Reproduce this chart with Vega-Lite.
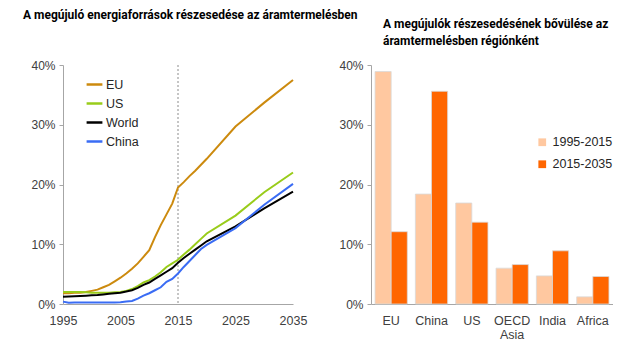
{
  "$schema": "https://vega.github.io/schema/vega-lite/v6.json",
  "background": "white",
  "padding": {"left": 23, "top": 9, "right": 0, "bottom": 0},
  "spacing": 78,
  "bounds": "flush",
  "config": {
    "view": {"stroke": null},
    "font": "Liberation Sans",
    "axis": {"labelColor": "#404040", "labelFontSize": 12, "domainColor": "#a6a6a6", "tickColor": "#a6a6a6", "grid": false, "title": null, "labelFont": "Liberation Sans"},
    "title": {"font": "Roboto", "fontSize": 12, "fontWeight": "bold", "color": "#000000", "anchor": "start", "frame": "group"},
    "legend": {"labelFont": "Liberation Sans", "labelFontSize": 12.5, "labelColor": "#262626", "title": null}
  },
  "datasets": {
    "share": [
      {"year": 1995, "region": "EU", "value": 1.8}, {"year": 1996, "region": "EU", "value": 1.8}, {"year": 1997, "region": "EU", "value": 1.9}, {"year": 1998, "region": "EU", "value": 1.9}, {"year": 1999, "region": "EU", "value": 2.0}, {"year": 2000, "region": "EU", "value": 2.2}, {"year": 2001, "region": "EU", "value": 2.4}, {"year": 2002, "region": "EU", "value": 2.8}, {"year": 2003, "region": "EU", "value": 3.2}, {"year": 2004, "region": "EU", "value": 3.8}, {"year": 2005, "region": "EU", "value": 4.4}, {"year": 2006, "region": "EU", "value": 5.1}, {"year": 2007, "region": "EU", "value": 5.9}, {"year": 2008, "region": "EU", "value": 6.8}, {"year": 2009, "region": "EU", "value": 7.9}, {"year": 2010, "region": "EU", "value": 9.0}, {"year": 2011, "region": "EU", "value": 11.2}, {"year": 2012, "region": "EU", "value": 13.2}, {"year": 2013, "region": "EU", "value": 15.0}, {"year": 2014, "region": "EU", "value": 16.8}, {"year": 2015, "region": "EU", "value": 19.5}, {"year": 2016, "region": "EU", "value": 20.4}, {"year": 2017, "region": "EU", "value": 21.4}, {"year": 2018, "region": "EU", "value": 22.3}, {"year": 2019, "region": "EU", "value": 23.3}, {"year": 2020, "region": "EU", "value": 24.3}, {"year": 2025, "region": "EU", "value": 29.7}, {"year": 2030, "region": "EU", "value": 33.7}, {"year": 2035, "region": "EU", "value": 37.5},
      {"year": 1995, "region": "US", "value": 2.0}, {"year": 1996, "region": "US", "value": 2.0}, {"year": 1997, "region": "US", "value": 2.0}, {"year": 1998, "region": "US", "value": 2.0}, {"year": 1999, "region": "US", "value": 1.95}, {"year": 2000, "region": "US", "value": 1.9}, {"year": 2001, "region": "US", "value": 1.9}, {"year": 2002, "region": "US", "value": 1.9}, {"year": 2003, "region": "US", "value": 1.9}, {"year": 2004, "region": "US", "value": 1.95}, {"year": 2005, "region": "US", "value": 2.0}, {"year": 2006, "region": "US", "value": 2.2}, {"year": 2007, "region": "US", "value": 2.5}, {"year": 2008, "region": "US", "value": 3.0}, {"year": 2009, "region": "US", "value": 3.6}, {"year": 2010, "region": "US", "value": 4.0}, {"year": 2011, "region": "US", "value": 4.6}, {"year": 2012, "region": "US", "value": 5.3}, {"year": 2013, "region": "US", "value": 6.2}, {"year": 2014, "region": "US", "value": 6.8}, {"year": 2015, "region": "US", "value": 7.4}, {"year": 2016, "region": "US", "value": 8.3}, {"year": 2017, "region": "US", "value": 9.1}, {"year": 2018, "region": "US", "value": 10.0}, {"year": 2019, "region": "US", "value": 10.9}, {"year": 2020, "region": "US", "value": 11.8}, {"year": 2025, "region": "US", "value": 14.8}, {"year": 2030, "region": "US", "value": 18.7}, {"year": 2035, "region": "US", "value": 22.0},
      {"year": 1995, "region": "World", "value": 1.2}, {"year": 1996, "region": "World", "value": 1.25}, {"year": 1997, "region": "World", "value": 1.3}, {"year": 1998, "region": "World", "value": 1.35}, {"year": 1999, "region": "World", "value": 1.4}, {"year": 2000, "region": "World", "value": 1.45}, {"year": 2001, "region": "World", "value": 1.5}, {"year": 2002, "region": "World", "value": 1.6}, {"year": 2003, "region": "World", "value": 1.7}, {"year": 2004, "region": "World", "value": 1.8}, {"year": 2005, "region": "World", "value": 1.9}, {"year": 2006, "region": "World", "value": 2.1}, {"year": 2007, "region": "World", "value": 2.3}, {"year": 2008, "region": "World", "value": 2.7}, {"year": 2009, "region": "World", "value": 3.2}, {"year": 2010, "region": "World", "value": 3.6}, {"year": 2011, "region": "World", "value": 4.2}, {"year": 2012, "region": "World", "value": 4.8}, {"year": 2013, "region": "World", "value": 5.4}, {"year": 2014, "region": "World", "value": 6.0}, {"year": 2015, "region": "World", "value": 6.9}, {"year": 2016, "region": "World", "value": 7.7}, {"year": 2017, "region": "World", "value": 8.4}, {"year": 2018, "region": "World", "value": 9.1}, {"year": 2019, "region": "World", "value": 9.8}, {"year": 2020, "region": "World", "value": 10.5}, {"year": 2025, "region": "World", "value": 13.0}, {"year": 2030, "region": "World", "value": 16.0}, {"year": 2035, "region": "World", "value": 18.8},
      {"year": 1995, "region": "China", "value": 0.4}, {"year": 1996, "region": "China", "value": 0.2}, {"year": 1997, "region": "China", "value": 0.25}, {"year": 1998, "region": "China", "value": 0.25}, {"year": 1999, "region": "China", "value": 0.25}, {"year": 2000, "region": "China", "value": 0.25}, {"year": 2001, "region": "China", "value": 0.25}, {"year": 2002, "region": "China", "value": 0.25}, {"year": 2003, "region": "China", "value": 0.25}, {"year": 2004, "region": "China", "value": 0.25}, {"year": 2005, "region": "China", "value": 0.3}, {"year": 2006, "region": "China", "value": 0.4}, {"year": 2007, "region": "China", "value": 0.5}, {"year": 2008, "region": "China", "value": 0.9}, {"year": 2009, "region": "China", "value": 1.4}, {"year": 2010, "region": "China", "value": 1.8}, {"year": 2011, "region": "China", "value": 2.3}, {"year": 2012, "region": "China", "value": 2.8}, {"year": 2013, "region": "China", "value": 3.7}, {"year": 2014, "region": "China", "value": 4.2}, {"year": 2015, "region": "China", "value": 5.1}, {"year": 2016, "region": "China", "value": 6.2}, {"year": 2017, "region": "China", "value": 7.2}, {"year": 2018, "region": "China", "value": 8.2}, {"year": 2019, "region": "China", "value": 9.2}, {"year": 2020, "region": "China", "value": 9.9}, {"year": 2025, "region": "China", "value": 12.7}, {"year": 2030, "region": "China", "value": 16.6}, {"year": 2035, "region": "China", "value": 20.1}
    ],
    "growth": [
      {"region": "EU", "period": "1995-2015", "value": 38.9}, {"region": "EU", "period": "2015-2035", "value": 12.1},
      {"region": "China", "period": "1995-2015", "value": 18.4}, {"region": "China", "period": "2015-2035", "value": 35.6},
      {"region": "US", "period": "1995-2015", "value": 16.9}, {"region": "US", "period": "2015-2035", "value": 13.7},
      {"region": "OECD Asia", "period": "1995-2015", "value": 6.0}, {"region": "OECD Asia", "period": "2015-2035", "value": 6.6},
      {"region": "India", "period": "1995-2015", "value": 4.7}, {"region": "India", "period": "2015-2035", "value": 8.9},
      {"region": "Africa", "period": "1995-2015", "value": 1.2}, {"region": "Africa", "period": "2015-2035", "value": 4.6}
    ]
  },
  "hconcat": [
    {
      "width": 230,
      "height": 239,
      "title": {"text": "A megújuló energiaforrások részesedése az áramtermelésben", "dx": -40, "offset": 37},
      "layer": [
        {
          "data": {"values": [{"year": 2015}]},
          "mark": {"type": "rule", "color": "#8c8c8c", "strokeDash": [2, 2], "strokeWidth": 1},
          "encoding": {"x": {"field": "year", "type": "quantitative", "scale": {"domain": [1995, 2035], "nice": false}}}
        },
        {
          "data": {"name": "share"},
          "mark": {"type": "line", "strokeWidth": 2, "interpolate": "linear"},
          "encoding": {
            "x": {"field": "year", "type": "quantitative", "scale": {"domain": [1995, 2035], "nice": false},
                  "axis": {"values": [1995, 2005, 2015, 2025, 2035], "format": "d", "ticks": false, "labelPadding": 10, "labelFlush": false, "labelFontSize": 12.5}},
            "y": {"field": "value", "type": "quantitative", "scale": {"domain": [0, 40], "nice": false},
                  "axis": {"values": [0, 10, 20, 30, 40], "labelExpr": "datum.value + '%'", "tickSize": 4, "labelPadding": 4}},
            "color": {"field": "region", "type": "nominal",
                      "scale": {"domain": ["EU", "US", "World", "China"], "range": ["#cc8a0e", "#99cc1a", "#000000", "#3a6cf4"]},
                      "legend": {"orient": "none", "legendX": 22, "legendY": 10, "symbolType": "stroke", "symbolSize": 250, "symbolStrokeWidth": 2.5, "rowPadding": 3, "labelOffset": 2}},
            "order": {"field": "year"}
          }
        }
      ]
    },
    {
      "width": 242,
      "height": 239,
      "title": {"text": ["A megújulók részesedésének bővülése az", "áramtermelésben régiónként"], "dx": 12, "offset": 11, "lineHeight": 17},
      "data": {"name": "growth"},
      "mark": {"type": "bar", "stroke": "#d9d9d9", "strokeWidth": 0.8},
      "encoding": {
        "x": {"field": "region", "type": "nominal", "sort": ["EU", "China", "US", "OECD Asia", "India", "Africa"],
              "scale": {"paddingInner": 0.2, "paddingOuter": 0.1},
              "axis": {"labelAngle": 0, "ticks": false, "labelExpr": "split(datum.label, ' ')", "labelPadding": 10, "labelLineHeight": 14, "labelFontSize": 12.5}},
        "xOffset": {"field": "period", "type": "nominal"},
        "y": {"field": "value", "type": "quantitative", "scale": {"domain": [0, 40], "nice": false},
              "axis": {"values": [0, 10, 20, 30, 40], "labelExpr": "datum.value + '%'", "tickSize": 4, "labelPadding": 4}},
        "color": {"field": "period", "type": "nominal",
                  "scale": {"domain": ["1995-2015", "2015-2035"], "range": ["#ffc8a0", "#ff6600"]},
                  "legend": {"orient": "none", "legendX": 165, "legendY": 71, "symbolType": "square", "symbolSize": 60, "symbolStrokeWidth": 0, "rowPadding": 9, "labelOffset": 4}}
      }
    }
  ],
  "resolve": {"scale": {"color": "independent"}}
}
